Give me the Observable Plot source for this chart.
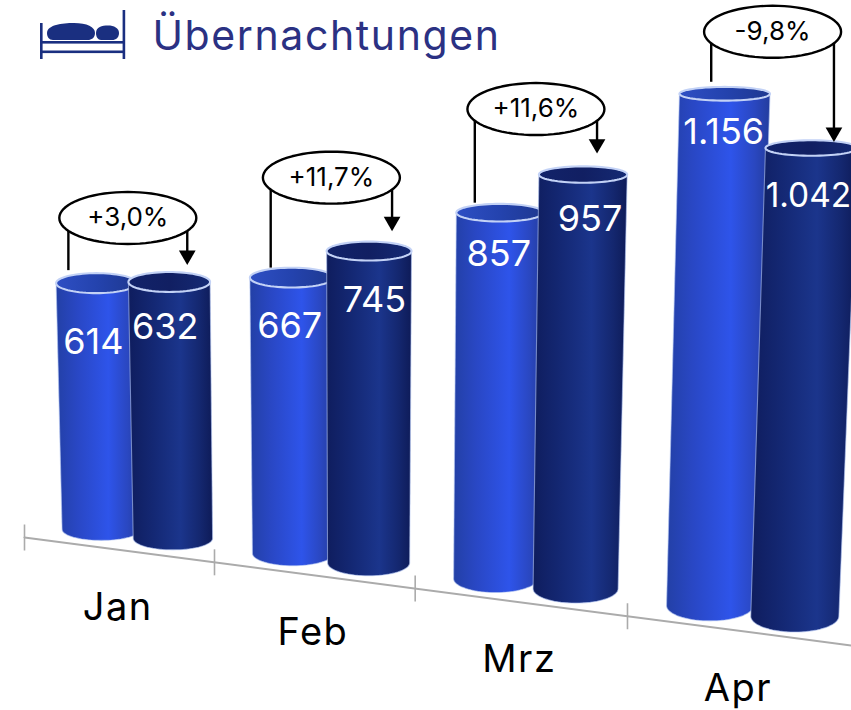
<!DOCTYPE html>
<html lang="de">
<head>
<meta charset="utf-8">
<title>Übernachtungen</title>
<script src="https://cdn.jsdelivr.net/npm/d3@7"></script>
<script src="https://cdn.jsdelivr.net/npm/@observablehq/plot@0.6"></script>
<style>
  html, body { margin: 0; padding: 0; background: #fff; overflow: hidden; }
</style>
</head>
<body>
<script>
// ---- data ----
const months = ["Jan", "Feb", "Mrz", "Apr"];
const previous = [614, 667, 857, 1156];
const current = [632, 745, 957, 1042];
const changes = ["+3,0%", "+11,7%", "+11,6%", "-9,8%"];
const heading = "Übernachtungen";

// ---- hand placement of annotations, relative to the computed bars ----
const labelShiftPrev = [[-3, 59], [-2, 49], [-1, 42], [-1, 39]];
const labelShiftCurr = [[-4, 45], [5.4, 49], [7, 45], [-3, 48]];
const labelSizeCurr = [36, 36, 36, 33.5];
const leaderDx = [[-28, 18], [-21, 23], [-25, 14], [-13.5, 22.5]];
const leaderGap = [[13, 17], [10, 20], [10, 21], [12, 6]];
const bubbleRise = [64, 73.5, 65.5, 62];

// ---- perspective of the drawing ----
const FONT = "Inter, 'Noto Sans', sans-serif";
const W = 851, H = 710;
const axisX = (u) => (184.3 * u + 24) / (1 - 0.02663 * u);
const axisY = (x) => 537 + 0.1306 * (x - 24);
const unitHeight = (x) => 0.395 + 0.000063 * x + 8e-12 * x * x * x;
const lean = (x, h) => (x - 350) * 8e-5 * h;
const halfTop = (x) => 39.5 + 0.008 * x;
const halfBase = (x) => 38.5 + 0.007 * x;
const ryBase = (x) => 11 + (x - 100) * 0.007;
const ryTop = (y) => 6.8 + 0.0165 * (y - 90);

const angles = d3.range(0, 73).map((i) => (i / 72) * 2 * Math.PI);

function bar(value, i, slot, series) {
  const ax = axisX(i + slot);
  const bx = ax + 6 - 0.012 * ax;
  const front = axisY(ax) - 6.5;
  const rb = ryBase(bx);
  const by = front - rb;
  const h = value * unitHeight(ax);
  const ty = by - h;
  const tx = bx + lean(bx, h);
  return {id: `${series}${i}`, series, i, value, bx, by, rb, tx, ty, ht: halfTop(tx), hb: halfBase(bx), rt: ryTop(ty)};
}
const prevBars = previous.map((v, i) => bar(v, i, 0.385, "a"));
const currBars = current.map((v, i) => bar(v, i, 0.765, "b"));

function bodyRows(b) {
  const rows = [{id: b.id, x: b.tx - b.ht, y: b.ty}];
  for (const a of angles.slice(0, 37)) rows.push({id: b.id, x: b.bx - b.hb * Math.cos(a), y: b.by + b.rb * Math.sin(a)});
  rows.push({id: b.id, x: b.tx + b.ht, y: b.ty});
  return rows;
}
const capRows = (b) => angles.map((a) => ({id: b.id, x: b.tx + b.ht * Math.cos(a), y: b.ty + b.rt * Math.sin(a)}));

const ticks = months.map((_, i) => axisX(i));
const axisRows = [0, 4].map((u) => ({x: axisX(u), y: axisY(axisX(u))}));

const callouts = months.map((m, i) => {
  const a = prevBars[i], b = currBars[i];
  const lx = a.tx + leaderDx[i][0], rx = b.tx + leaderDx[i][1];
  const cy = Math.min(a.ty, b.ty) - bubbleRise[i];
  return {i, text: changes[i], lx, rx, cx: (lx + rx) / 2, cy, lEnd: a.ty - leaderGap[i][0], rEnd: b.ty - leaderGap[i][1]};
});
const bubbleRows = callouts.flatMap((c) => angles.map((a) => ({id: c.i, x: c.cx + 68.5 * Math.cos(a), y: c.cy + 26 * Math.sin(a)})));

const valueLabels = [
  ...prevBars.map((b, i) => ({x: b.tx + labelShiftPrev[i][0], y: b.ty + labelShiftPrev[i][1], v: b.value, size: 36})),
  ...currBars.map((b, i) => ({x: b.tx + labelShiftCurr[i][0], y: b.ty + labelShiftCurr[i][1], v: b.value, size: labelSizeCurr[i]}))
];
const deNumber = d3.formatLocale({decimal: ",", thousands: ".", grouping: [3], currency: ["", "€"]}).format(",d");

const monthLabels = months.map((m, i) => {
  const x = axisX(i + 0.5);
  return {m, x: x - 0.5, y: axisY(x) + 58};
});

function gradient(id, stops) {
  return `<linearGradient id="${id}" x1="0" x2="1" y1="0" y2="0">` +
    stops.map(([o, c]) => `<stop offset="${o}" stop-color="${c}"/>`).join("") + `</linearGradient>`;
}
const defsMark = () => {
  const g = d3.create("svg:g");
  g.html(`<defs>` +
    gradient("bodyA", [[0, "#2340a6"], [0.25, "#2947c4"], [0.62, "#2e54ea"], [0.85, "#2a47c0"], [1, "#233c9e"]]) +
    gradient("bodyB", [[0, "#0f1d5e"], [0.3, "#142874"], [0.62, "#1b358c"], [0.85, "#14276f"], [1, "#0e1b58"]]) +
    gradient("capA", [[0, "#2e4fc4"], [0.5, "#2443ae"], [1, "#1e3890"]]) +
    gradient("capB", [[0, "#12236a"], [0.5, "#111f62"], [1, "#152a74"]]) +
    `</defs>`);
  return g.node();
};
// bed pictogram beside the heading
const bedMark = () => {
  const g = d3.create("svg:g").attr("fill", "#1a2f80");
  g.html(`<rect x="40" y="23" width="2.6" height="36"/><rect x="122.6" y="10" width="2.6" height="49"/>
    <rect x="40" y="41" width="85" height="2.6"/><rect x="40" y="50.5" width="85" height="2.6"/>
    <path d="M47 33 C47 25 62 23 74 23 C87 23 95 27 95 33 C95 38 91 40 88 40 L53 40 C49 40 47 37 47 33Z"/>
    <path d="M96 33 C96 27 102 25.5 108 25.5 C114 25.5 119 28 119 33 C119 37.5 116 40 112 40 L101 40 C98 40 96 37 96 33Z"/>`);
  return g.node();
};

const bodyMark = (bars, fill) => Plot.line(bars.flatMap(bodyRows), {
  x: "x", y: "y", z: "id", fill, stroke: "#b4c6f2", strokeWidth: 1.1, strokeOpacity: 0.6, curve: "linear"
});
const capMark = (bars, fill) => Plot.line(bars.flatMap(capRows), {
  x: "x", y: "y", z: "id", fill, stroke: "#c3d2f6", strokeWidth: 2.1, curve: "linear"
});

const chart = Plot.plot({
  width: W, height: H,
  margin: 0,
  x: {domain: [0, W], range: [0, W], axis: null},
  y: {domain: [0, H], range: [0, H], axis: null},
  style: {fontFamily: FONT, background: "#fff"},
  marks: [
    defsMark,
    Plot.line(axisRows, {x: "x", y: "y", stroke: "#ababab", strokeWidth: 2}),
    Plot.link(ticks, {x1: (d) => d, x2: (d) => d, y1: (d) => axisY(d) - 13, y2: (d) => axisY(d) + 13, stroke: "#ababab", strokeWidth: 1.6}),
    bodyMark(prevBars, "url(#bodyA)"),
    capMark(prevBars, "url(#capA)"),
    bodyMark(currBars, "url(#bodyB)"),
    capMark(currBars, "url(#capB)"),
    Plot.text(valueLabels, {x: "x", y: "y", text: (d) => deNumber(d.v), fill: "#fff", fontSize: "size", fontWeight: 400}),
    Plot.text(monthLabels, {x: "x", y: "y", text: "m", fill: "#000", fontSize: 38}),
    Plot.link(callouts, {x1: "lx", x2: "lx", y1: "cy", y2: "lEnd", stroke: "#000", strokeWidth: 2.4}),
    Plot.link(callouts, {x1: "rx", x2: "rx", y1: "cy", y2: (d) => d.rEnd - 8, stroke: "#000", strokeWidth: 2.4}),
    Plot.dot(callouts, {x: "rx", y: (d) => d.rEnd - 9.6, symbol: "triangle", rotate: 180, r: 6.2, fill: "#000", stroke: "none"}),
    Plot.line(bubbleRows, {x: "x", y: "y", z: "id", fill: "#fff", stroke: "#000", strokeWidth: 2.4}),
    Plot.text(callouts, {x: "cx", y: "cy", text: "text", fill: "#000", fontSize: 26}),
    bedMark,
    Plot.text([heading], {x: () => 152, y: () => 36, text: (d) => d, textAnchor: "start", fill: "#2b3183", fontSize: 41})
  ]
});
// tracking of the heading and the month names, which run wider in the original face
chart.querySelectorAll("text").forEach((t) => {
  if (t.textContent === heading) t.style.letterSpacing = "1.6px";
  if (months.includes(t.textContent)) t.style.letterSpacing = "1.5px";
});
document.body.appendChild(chart);
</script>
</body>
</html>
